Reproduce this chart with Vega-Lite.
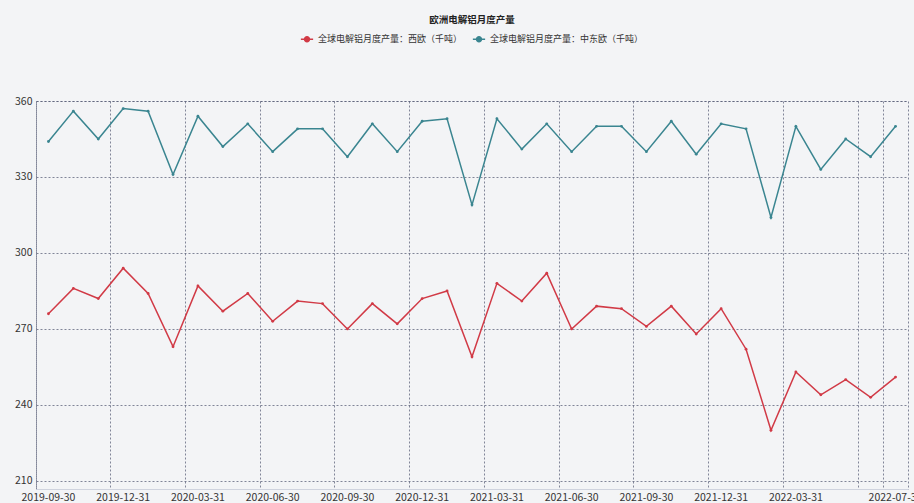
{
  "$schema": "https://vega.github.io/schema/vega-lite/v6.json",
  "width": 872,
  "height": 388,
  "autosize": {"type": "none"},
  "padding": {"left": 36, "top": 101, "right": 6, "bottom": 14},
  "background": "#f3f4f6",
  "title": {
    "text": "欧洲电解铝月度产量",
    "anchor": "middle",
    "frame": "group",
    "fontSize": 9.5,
    "fontWeight": "bold",
    "color": "#222222",
    "font": "Noto Sans CJK SC",
    "offset": 8
  },
  "data": {
    "values": [
      {"date": "2019-09-30", "series": "全球电解铝月度产量：西欧（千吨）", "value": 276},
      {"date": "2019-10-31", "series": "全球电解铝月度产量：西欧（千吨）", "value": 286},
      {"date": "2019-11-30", "series": "全球电解铝月度产量：西欧（千吨）", "value": 282},
      {"date": "2019-12-31", "series": "全球电解铝月度产量：西欧（千吨）", "value": 294},
      {"date": "2020-01-31", "series": "全球电解铝月度产量：西欧（千吨）", "value": 284},
      {"date": "2020-02-29", "series": "全球电解铝月度产量：西欧（千吨）", "value": 263},
      {"date": "2020-03-31", "series": "全球电解铝月度产量：西欧（千吨）", "value": 287},
      {"date": "2020-04-30", "series": "全球电解铝月度产量：西欧（千吨）", "value": 277},
      {"date": "2020-05-31", "series": "全球电解铝月度产量：西欧（千吨）", "value": 284},
      {"date": "2020-06-30", "series": "全球电解铝月度产量：西欧（千吨）", "value": 273},
      {"date": "2020-07-31", "series": "全球电解铝月度产量：西欧（千吨）", "value": 281},
      {"date": "2020-08-31", "series": "全球电解铝月度产量：西欧（千吨）", "value": 280},
      {"date": "2020-09-30", "series": "全球电解铝月度产量：西欧（千吨）", "value": 270},
      {"date": "2020-10-31", "series": "全球电解铝月度产量：西欧（千吨）", "value": 280},
      {"date": "2020-11-30", "series": "全球电解铝月度产量：西欧（千吨）", "value": 272},
      {"date": "2020-12-31", "series": "全球电解铝月度产量：西欧（千吨）", "value": 282},
      {"date": "2021-01-31", "series": "全球电解铝月度产量：西欧（千吨）", "value": 285},
      {"date": "2021-02-28", "series": "全球电解铝月度产量：西欧（千吨）", "value": 259},
      {"date": "2021-03-31", "series": "全球电解铝月度产量：西欧（千吨）", "value": 288},
      {"date": "2021-04-30", "series": "全球电解铝月度产量：西欧（千吨）", "value": 281},
      {"date": "2021-05-31", "series": "全球电解铝月度产量：西欧（千吨）", "value": 292},
      {"date": "2021-06-30", "series": "全球电解铝月度产量：西欧（千吨）", "value": 270},
      {"date": "2021-07-31", "series": "全球电解铝月度产量：西欧（千吨）", "value": 279},
      {"date": "2021-08-31", "series": "全球电解铝月度产量：西欧（千吨）", "value": 278},
      {"date": "2021-09-30", "series": "全球电解铝月度产量：西欧（千吨）", "value": 271},
      {"date": "2021-10-31", "series": "全球电解铝月度产量：西欧（千吨）", "value": 279},
      {"date": "2021-11-30", "series": "全球电解铝月度产量：西欧（千吨）", "value": 268},
      {"date": "2021-12-31", "series": "全球电解铝月度产量：西欧（千吨）", "value": 278},
      {"date": "2022-01-31", "series": "全球电解铝月度产量：西欧（千吨）", "value": 262},
      {"date": "2022-02-28", "series": "全球电解铝月度产量：西欧（千吨）", "value": 230},
      {"date": "2022-03-31", "series": "全球电解铝月度产量：西欧（千吨）", "value": 253},
      {"date": "2022-04-30", "series": "全球电解铝月度产量：西欧（千吨）", "value": 244},
      {"date": "2022-05-31", "series": "全球电解铝月度产量：西欧（千吨）", "value": 250},
      {"date": "2022-06-30", "series": "全球电解铝月度产量：西欧（千吨）", "value": 243},
      {"date": "2022-07-31", "series": "全球电解铝月度产量：西欧（千吨）", "value": 251},
      {"date": "2019-09-30", "series": "全球电解铝月度产量：中东欧（千吨）", "value": 344},
      {"date": "2019-10-31", "series": "全球电解铝月度产量：中东欧（千吨）", "value": 356},
      {"date": "2019-11-30", "series": "全球电解铝月度产量：中东欧（千吨）", "value": 345},
      {"date": "2019-12-31", "series": "全球电解铝月度产量：中东欧（千吨）", "value": 357},
      {"date": "2020-01-31", "series": "全球电解铝月度产量：中东欧（千吨）", "value": 356},
      {"date": "2020-02-29", "series": "全球电解铝月度产量：中东欧（千吨）", "value": 331},
      {"date": "2020-03-31", "series": "全球电解铝月度产量：中东欧（千吨）", "value": 354},
      {"date": "2020-04-30", "series": "全球电解铝月度产量：中东欧（千吨）", "value": 342},
      {"date": "2020-05-31", "series": "全球电解铝月度产量：中东欧（千吨）", "value": 351},
      {"date": "2020-06-30", "series": "全球电解铝月度产量：中东欧（千吨）", "value": 340},
      {"date": "2020-07-31", "series": "全球电解铝月度产量：中东欧（千吨）", "value": 349},
      {"date": "2020-08-31", "series": "全球电解铝月度产量：中东欧（千吨）", "value": 349},
      {"date": "2020-09-30", "series": "全球电解铝月度产量：中东欧（千吨）", "value": 338},
      {"date": "2020-10-31", "series": "全球电解铝月度产量：中东欧（千吨）", "value": 351},
      {"date": "2020-11-30", "series": "全球电解铝月度产量：中东欧（千吨）", "value": 340},
      {"date": "2020-12-31", "series": "全球电解铝月度产量：中东欧（千吨）", "value": 352},
      {"date": "2021-01-31", "series": "全球电解铝月度产量：中东欧（千吨）", "value": 353},
      {"date": "2021-02-28", "series": "全球电解铝月度产量：中东欧（千吨）", "value": 319},
      {"date": "2021-03-31", "series": "全球电解铝月度产量：中东欧（千吨）", "value": 353},
      {"date": "2021-04-30", "series": "全球电解铝月度产量：中东欧（千吨）", "value": 341},
      {"date": "2021-05-31", "series": "全球电解铝月度产量：中东欧（千吨）", "value": 351},
      {"date": "2021-06-30", "series": "全球电解铝月度产量：中东欧（千吨）", "value": 340},
      {"date": "2021-07-31", "series": "全球电解铝月度产量：中东欧（千吨）", "value": 350},
      {"date": "2021-08-31", "series": "全球电解铝月度产量：中东欧（千吨）", "value": 350},
      {"date": "2021-09-30", "series": "全球电解铝月度产量：中东欧（千吨）", "value": 340},
      {"date": "2021-10-31", "series": "全球电解铝月度产量：中东欧（千吨）", "value": 352},
      {"date": "2021-11-30", "series": "全球电解铝月度产量：中东欧（千吨）", "value": 339},
      {"date": "2021-12-31", "series": "全球电解铝月度产量：中东欧（千吨）", "value": 351},
      {"date": "2022-01-31", "series": "全球电解铝月度产量：中东欧（千吨）", "value": 349},
      {"date": "2022-02-28", "series": "全球电解铝月度产量：中东欧（千吨）", "value": 314},
      {"date": "2022-03-31", "series": "全球电解铝月度产量：中东欧（千吨）", "value": 350},
      {"date": "2022-04-30", "series": "全球电解铝月度产量：中东欧（千吨）", "value": 333},
      {"date": "2022-05-31", "series": "全球电解铝月度产量：中东欧（千吨）", "value": 345},
      {"date": "2022-06-30", "series": "全球电解铝月度产量：中东欧（千吨）", "value": 338},
      {"date": "2022-07-31", "series": "全球电解铝月度产量：中东欧（千吨）", "value": 350}
    ]
  },
  "encoding": {
    "y": {
      "field": "value",
      "type": "quantitative",
      "scale": {"domain": [206.8, 360], "nice": false, "zero": false},
      "axis": {
        "title": null,
        "values": [210, 240, 270, 300, 330, 360],
        "ticks": false,
        "domain": false,
        "labelPadding": 4,
        "grid": true
      }
    },
    "color": {
      "field": "series",
      "type": "nominal",
      "sort": ["全球电解铝月度产量：西欧（千吨）", "全球电解铝月度产量：中东欧（千吨）"],
      "scale": {
        "domain": ["全球电解铝月度产量：西欧（千吨）", "全球电解铝月度产量：中东欧（千吨）"],
        "range": ["#d13a46", "#3a8590"]
      },
      "legend": {
        "title": null,
        "orient": "none",
        "direction": "horizontal",
        "legendX": 264,
        "legendY": -69,
        "symbolType": "M-1,0H1M0.4,0A0.4,0.4,0,1,1,-0.4,0A0.4,0.4,0,1,1,0.4,0Z",
        "symbolSize": 150,
        "symbolStrokeWidth": 1.5,
        "symbolFillColor": null,
        "labelFontSize": 9,
        "labelLimit": 400,
        "labelColor": "#333333",
        "columnPadding": 6,
        "labelOffset": 4
      }
    }
  },
  "layer": [
    {
      "mark": {"type": "line", "strokeWidth": 1.5},
      "encoding": {
        "x": {
          "field": "date",
          "type": "ordinal",
          "sort": "ascending",
          "scale": {"type": "band", "paddingInner": 0, "paddingOuter": 0},
          "axis": {
            "orient": "bottom",
            "title": null,
            "values": ["2019-09-30", "2019-12-31", "2020-03-31", "2020-06-30", "2020-09-30", "2020-12-31", "2021-03-31", "2021-06-30", "2021-09-30", "2021-12-31", "2022-03-31", "2022-06-30", "2022-07-31"],
            "bandPosition": 0,
            "labels": false,
            "ticks": false,
            "domain": false,
            "grid": true
          }
        }
      }
    },
    {
      "mark": {"type": "point", "size": 8, "filled": true, "opacity": 1},
      "encoding": {
        "x": {
          "field": "date",
          "type": "ordinal",
          "sort": "ascending",
          "scale": {"type": "band", "paddingInner": 0, "paddingOuter": 0},
          "axis": {
            "orient": "bottom",
            "title": null,
            "values": ["2019-09-30", "2019-12-31", "2020-03-31", "2020-06-30", "2020-09-30", "2020-12-31", "2021-03-31", "2021-06-30", "2021-09-30", "2021-12-31", "2022-03-31", "2022-06-30", "2022-07-31"],
            "labelExpr": "datum.value == '2022-06-30' ? '' : datum.label",
            "labelAngle": 0,
            "labelOverlap": false,
            "labelFlush": false,
            "ticks": false,
            "labelPadding": 3,
            "domain": true,
            "domainColor": "#cfd3de",
            "domainWidth": 1,
            "grid": false,
            "zindex": 1
          }
        }
      }
    }
  ],
  "resolve": {"axis": {"x": "independent"}},
  "config": {
    "font": "Noto Sans CJK SC",
    "view": {"stroke": "#5b6078", "strokeOpacity": 0.75, "strokeDash": [2, 2], "strokeWidth": 1},
    "axis": {
      "labelFont": "Noto Sans CJK SC",
      "labelFontSize": 10.5,
      "labelColor": "#333333",
      "gridColor": "#5b6078",
      "gridOpacity": 0.75,
      "gridDash": [2, 2],
      "gridWidth": 1
    },
    "legend": {"labelFont": "Noto Sans CJK SC"}
  }
}
